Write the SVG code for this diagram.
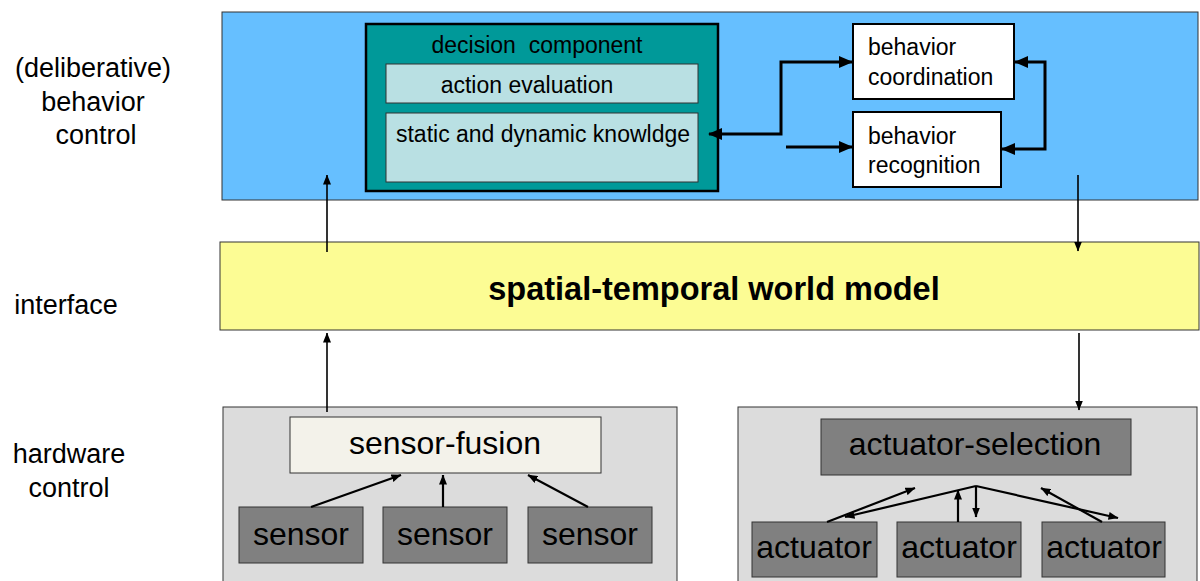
<svg xmlns="http://www.w3.org/2000/svg" width="1200" height="581" viewBox="0 0 1200 581">
<style>
text{font-family:"Liberation Sans",Arial,sans-serif;fill:#000}
.lbl{font-size:27px;text-anchor:middle}
.panel{stroke:#333;stroke-width:1}
.bx{font-size:23px}
.hw{font-size:32px;text-anchor:middle}
.thick{fill:none;stroke:#000;stroke-width:3}
.thin{fill:none;stroke:#000;stroke-width:1.6}
.med{fill:none;stroke:#000;stroke-width:2.2}
</style>
<defs>
<marker id="big" markerUnits="userSpaceOnUse" markerWidth="14" markerHeight="12" refX="13" refY="6" orient="auto-start-reverse" viewBox="0 0 14 12"><path d="M0,0 L14,6 L0,12 z" fill="#000"/></marker>
<marker id="sm" markerUnits="userSpaceOnUse" markerWidth="10" markerHeight="8" refX="9.5" refY="4" orient="auto" viewBox="0 0 10 8"><path d="M0,0 L10,4 L0,8 z" fill="#000"/></marker>
</defs>

<g id="labels">
<text class="lbl" x="93" y="77">(deliberative)</text>
<text class="lbl" x="93" y="111">behavior</text>
<text class="lbl" x="96" y="144">control</text>
<text class="lbl" x="66" y="314">interface</text>
<text class="lbl" x="69" y="463">hardware</text>
<text class="lbl" x="69" y="497">control</text>
</g>

<g id="behavior-layer">
<rect class="panel" x="222" y="12" width="976" height="188" fill="#66bfff"/>
</g>
<g id="world-model">
<rect class="panel" x="220" y="242" width="979" height="88" fill="#fcfc94"/>
<text x="714" y="300" font-size="32.5" font-weight="bold" text-anchor="middle">spatial-temporal world model</text>
</g>
<g id="sensor-panel"><rect class="panel" x="223" y="407" width="454" height="180" fill="#dcdcdc"/></g>
<g id="actuator-panel"><rect class="panel" x="738" y="407" width="459" height="180" fill="#dcdcdc"/></g>

<g id="decision-component">
<rect x="366" y="24" width="352" height="167" fill="#009999" stroke="#000" stroke-width="2.5"/>
<text class="bx" x="537" y="53" text-anchor="middle" xml:space="preserve">decision  component</text>
</g>
<g id="action-evaluation">
<rect x="386" y="64" width="312" height="39" fill="#b9e0e3" stroke="#333" stroke-width="1"/>
<text class="bx" x="527" y="93" text-anchor="middle">action evaluation</text>
</g>
<g id="knowledge">
<rect x="386" y="113" width="312" height="69" fill="#b9e0e3" stroke="#333" stroke-width="1"/>
<text class="bx" x="543" y="142" text-anchor="middle">static and dynamic knowldge</text>
</g>
<g id="behavior-coordination">
<rect x="853" y="24" width="161" height="75" fill="#fff" stroke="#000" stroke-width="2"/>
<text class="bx" x="868" y="55">behavior</text>
<text class="bx" x="868" y="85">coordination</text>
</g>
<g id="behavior-recognition">
<rect x="853" y="112" width="148" height="75" fill="#fff" stroke="#000" stroke-width="2"/>
<text class="bx" x="868" y="144">behavior</text>
<text class="bx" x="868" y="173">recognition</text>
</g>

<g id="sensor-fusion">
<rect x="290" y="417" width="311" height="56" fill="#f3f2ea" stroke="#333" stroke-width="1"/>
<text class="hw" x="445" y="454">sensor-fusion</text>
</g>
<g id="sensor1"><rect x="239" y="507" width="124" height="56" fill="#808080" stroke="#333" stroke-width="1"/><text class="hw" x="301" y="545">sensor</text></g>
<g id="sensor2"><rect x="383" y="507" width="124" height="56" fill="#808080" stroke="#333" stroke-width="1"/><text class="hw" x="445" y="545">sensor</text></g>
<g id="sensor3"><rect x="528" y="507" width="124" height="56" fill="#808080" stroke="#333" stroke-width="1"/><text class="hw" x="590" y="545">sensor</text></g>

<g id="actuator-selection">
<rect x="821" y="419" width="310" height="56" fill="#808080" stroke="#333" stroke-width="1"/>
<text class="hw" x="975" y="455">actuator-selection</text>
</g>
<g id="actuator1"><rect x="752" y="522" width="125" height="55" fill="#808080" stroke="#333" stroke-width="1"/><text class="hw" x="814" y="558">actuator</text></g>
<g id="actuator2"><rect x="897" y="522" width="124" height="55" fill="#808080" stroke="#333" stroke-width="1"/><text class="hw" x="959" y="558">actuator</text></g>
<g id="actuator3"><rect x="1042" y="522" width="123" height="55" fill="#808080" stroke="#333" stroke-width="1"/><text class="hw" x="1104" y="558">actuator</text></g>

<g id="connectors">
<path class="thick" d="M709,134 H781 V62 H852" marker-start="url(#big)" marker-end="url(#big)"/>
<path class="thick" d="M786,147 H852" marker-end="url(#big)"/>
<path class="thick" d="M1015,62 H1045 V149 H1002" marker-start="url(#big)" marker-end="url(#big)"/>
<path class="thin" d="M1078,175 V251" marker-end="url(#sm)"/>
<path class="thin" d="M327,252 V175" marker-end="url(#sm)"/>
<path class="thin" d="M327,412 V333" marker-end="url(#sm)"/>
<path class="thin" d="M1079,333 V410" marker-end="url(#sm)"/>
<path class="med" d="M311,507 L401,475" marker-end="url(#sm)"/>
<path class="med" d="M443,507 V475" marker-end="url(#sm)"/>
<path class="med" d="M588,507 L528,475" marker-end="url(#sm)"/>
<path class="med" d="M827,522 L915,488" marker-end="url(#sm)"/>
<path class="med" d="M976,486 L845,517" marker-end="url(#sm)"/>
<path class="med" d="M958,522 V490" marker-end="url(#sm)"/>
<path class="med" d="M976,486 V517" marker-end="url(#sm)"/>
<path class="med" d="M976,486 L1118,518" marker-end="url(#sm)"/>
<path class="med" d="M1102,522 L1041,488" marker-end="url(#sm)"/>
</g>
</svg>
